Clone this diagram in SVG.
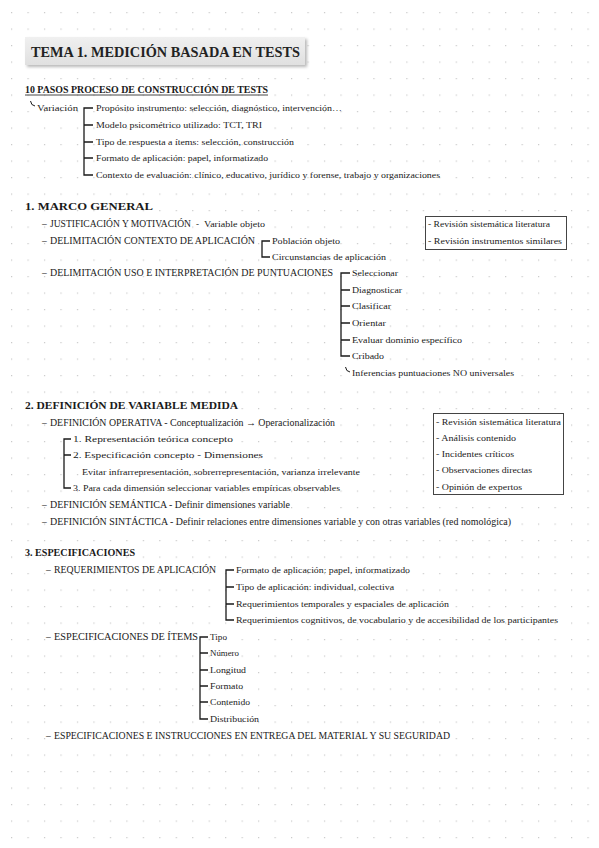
<svg xmlns="http://www.w3.org/2000/svg" width="599" height="848" viewBox="0 0 599 848">
<defs>
<pattern id="dots" x="11" y="12" width="16.47" height="16.5" patternUnits="userSpaceOnUse">
<rect x="0" y="0" width="1.2" height="1.2" fill="#c9c9c9"/>
</pattern>
<filter id="sh" x="-5%" y="-20%" width="110%" height="150%">
<feGaussianBlur stdDeviation="1.5"/>
</filter>
<linearGradient id="tg" x1="0" y1="0" x2="0" y2="1">
<stop offset="0" stop-color="#f0f0f0"/>
<stop offset="1" stop-color="#e0e0e0"/>
</linearGradient>
</defs>
<style>
text{font-family:"Liberation Serif","Times New Roman",serif;fill:#1a1a1a;font-size:9px}
.h{font-weight:bold;font-size:9.5px}
.c{font-size:9.5px}
.t{font-size:15.5px;font-weight:bold;fill:#222}
.br{stroke:#1a1a1a;stroke-width:1.3;fill:none}
.tk{stroke:#1a1a1a;stroke-width:1;fill:none}
.box{fill:#fff;stroke:#444;stroke-width:1}
</style>
<rect width="599" height="848" fill="#fff"/>
<rect width="599" height="848" fill="url(#dots)"/>

<g id="title">
<rect x="27" y="39" width="280" height="28" fill="#b8b8b8" filter="url(#sh)"/>
<rect x="25" y="37" width="280" height="28" fill="url(#tg)"/>
<text class="t" x="31" y="56.5" textLength="269" lengthAdjust="spacingAndGlyphs">TEMA 1. MEDICIÓN BASADA EN TESTS</text>
</g>

<g id="pasos">
<text class="h" x="25" y="93" textLength="243" lengthAdjust="spacingAndGlyphs" font-size="9">10 PASOS PROCESO DE CONSTRUCCIÓN DE TESTS</text>
<line x1="25" y1="95" x2="268" y2="95" stroke="#1a1a1a" stroke-width="0.8"/>
<text x="37" y="111" textLength="41" lengthAdjust="spacingAndGlyphs">Variación</text>
<text x="96" y="111" textLength="246" lengthAdjust="spacingAndGlyphs">Propósito instrumento: selección, diagnóstico, intervención…</text>
<text x="96" y="128" textLength="166" lengthAdjust="spacingAndGlyphs">Modelo psicométrico utilizado: TCT, TRI</text>
<text x="96" y="145" textLength="198" lengthAdjust="spacingAndGlyphs">Tipo de respuesta a ítems: selección, construcción</text>
<text x="96" y="161" textLength="172" lengthAdjust="spacingAndGlyphs">Formato de aplicación: papel, informatizado</text>
<text x="96" y="178" textLength="344" lengthAdjust="spacingAndGlyphs">Contexto de evaluación: clínico, educativo, jurídico y forense, trabajo y organizaciones</text>
</g>

<g id="marco">
<text class="h" x="25" y="210" textLength="128" lengthAdjust="spacingAndGlyphs">1. MARCO GENERAL</text>
<text class="c" x="42" y="227">–</text>
<text class="c" x="50" y="227" textLength="141" lengthAdjust="spacingAndGlyphs">JUSTIFICACIÓN Y MOTIVACIÓN</text>
<text x="196" y="227">-</text>
<text x="204" y="227" textLength="61" lengthAdjust="spacingAndGlyphs">Variable objeto</text>
<text class="c" x="42" y="244">–</text>
<text class="c" x="50" y="244" textLength="205" lengthAdjust="spacingAndGlyphs">DELIMITACIÓN CONTEXTO DE APLICACIÓN</text>
<text x="272" y="244" textLength="68" lengthAdjust="spacingAndGlyphs">Población objeto</text>
<text x="272" y="260" textLength="114" lengthAdjust="spacingAndGlyphs">Circunstancias de aplicación</text>
<text class="c" x="42" y="276">–</text>
<text class="c" x="50" y="276" textLength="283" lengthAdjust="spacingAndGlyphs">DELIMITACIÓN USO E INTERPRETACIÓN DE PUNTUACIONES</text>
<text x="352" y="276" textLength="46" lengthAdjust="spacingAndGlyphs">Seleccionar</text>
<text x="352" y="293" textLength="50" lengthAdjust="spacingAndGlyphs">Diagnosticar</text>
<text x="352" y="309" textLength="39" lengthAdjust="spacingAndGlyphs">Clasificar</text>
<text x="352" y="326" textLength="34" lengthAdjust="spacingAndGlyphs">Orientar</text>
<text x="352" y="343" textLength="110" lengthAdjust="spacingAndGlyphs">Evaluar dominio específico</text>
<text x="352" y="359" textLength="32" lengthAdjust="spacingAndGlyphs">Cribado</text>
<text x="352" y="376" textLength="162" lengthAdjust="spacingAndGlyphs">Inferencias puntuaciones NO universales</text>
</g>

<g id="box1">
<rect class="box" x="425.5" y="216.5" width="141" height="33"/>
<text x="428" y="227" textLength="122" lengthAdjust="spacingAndGlyphs">- Revisión sistemática literatura</text>
<text x="428" y="244" textLength="134" lengthAdjust="spacingAndGlyphs">- Revisión instrumentos similares</text>
</g>

<g id="definicion">
<text class="h" x="25" y="409" textLength="213" lengthAdjust="spacingAndGlyphs">2. DEFINICIÓN DE VARIABLE MEDIDA</text>
<text class="c" x="42" y="426">–</text>
<text class="c" x="50" y="426" textLength="285" lengthAdjust="spacingAndGlyphs">DEFINICIÓN OPERATIVA - Conceptualización → Operacionalización</text>
<text x="73" y="442" textLength="160" lengthAdjust="spacingAndGlyphs">1. Representación teórica concepto</text>
<text x="73" y="458" textLength="190" lengthAdjust="spacingAndGlyphs">2. Especificación concepto - Dimensiones</text>
<text x="82" y="475" textLength="278" lengthAdjust="spacingAndGlyphs">Evitar infrarrepresentación, sobrerrepresentación, varianza irrelevante</text>
<text x="73" y="491" textLength="267" lengthAdjust="spacingAndGlyphs">3. Para cada dimensión seleccionar variables empíricas observables</text>
<text class="c" x="42" y="508">–</text>
<text class="c" x="50" y="508" textLength="240" lengthAdjust="spacingAndGlyphs">DEFINICIÓN SEMÁNTICA - Definir dimensiones variable</text>
<text class="c" x="42" y="525">–</text>
<text class="c" x="50" y="525" textLength="461" lengthAdjust="spacingAndGlyphs">DEFINICIÓN SINTÁCTICA - Definir relaciones entre dimensiones variable y con otras variables (red nomológica)</text>
</g>

<g id="box2">
<rect class="box" x="433.5" y="413.5" width="130" height="81"/>
<text x="436" y="425" textLength="125" lengthAdjust="spacingAndGlyphs">- Revisión sistemática literatura</text>
<text x="436" y="441" textLength="80" lengthAdjust="spacingAndGlyphs">- Análisis contenido</text>
<text x="436" y="457" textLength="78" lengthAdjust="spacingAndGlyphs">- Incidentes críticos</text>
<text x="436" y="473" textLength="96" lengthAdjust="spacingAndGlyphs">- Observaciones directas</text>
<text x="436" y="490" textLength="86" lengthAdjust="spacingAndGlyphs">- Opinión de expertos</text>
</g>

<g id="especificaciones">
<text class="h" x="25" y="556" textLength="110" lengthAdjust="spacingAndGlyphs">3. ESPECIFICACIONES</text>
<text class="c" x="46" y="573">–</text>
<text class="c" x="54" y="573" textLength="162" lengthAdjust="spacingAndGlyphs">REQUERIMIENTOS DE APLICACIÓN</text>
<text x="236" y="573" textLength="174" lengthAdjust="spacingAndGlyphs">Formato de aplicación: papel, informatizado</text>
<text x="236" y="590" textLength="158" lengthAdjust="spacingAndGlyphs">Tipo de aplicación: individual, colectiva</text>
<text x="236" y="607" textLength="213" lengthAdjust="spacingAndGlyphs">Requerimientos temporales y espaciales de aplicación</text>
<text x="236" y="623" textLength="322" lengthAdjust="spacingAndGlyphs">Requerimientos cognitivos, de vocabulario y de accesibilidad de los participantes</text>
<text class="c" x="46" y="640">–</text>
<text class="c" x="54" y="640" textLength="144" lengthAdjust="spacingAndGlyphs">ESPECIFICACIONES DE ÍTEMS</text>
<text x="210" y="640" textLength="17" lengthAdjust="spacingAndGlyphs">Tipo</text>
<text x="210" y="656" textLength="29" lengthAdjust="spacingAndGlyphs">Número</text>
<text x="210" y="673" textLength="36" lengthAdjust="spacingAndGlyphs">Longitud</text>
<text x="210" y="689" textLength="33" lengthAdjust="spacingAndGlyphs">Formato</text>
<text x="210" y="705" textLength="40" lengthAdjust="spacingAndGlyphs">Contenido</text>
<text x="210" y="722" textLength="49" lengthAdjust="spacingAndGlyphs">Distribución</text>
<text class="c" x="46" y="739">–</text>
<text class="c" x="54" y="739" textLength="396" lengthAdjust="spacingAndGlyphs">ESPECIFICACIONES E INSTRUCCIONES EN ENTREGA DEL MATERIAL Y SU SEGURIDAD</text>
</g>

<g id="connectors">
<path class="tk" d="M30.5 101 Q31 105.5 35 106"/>
<path class="br" d="M93 108 H84 V175 H93 M84 125 H93 M84 142 H93 M84 158 H93"/>
<path class="br" d="M270 241 H262 V257 H270"/>
<path class="br" d="M350 273 H341 V356 H350 M341 290 H350 M341 306 H350 M341 323 H350 M341 340 H350"/>
<path class="tk" d="M345.5 367 Q346 371.5 350 372"/>
<path class="br" d="M71 439 H64 V488 H71 M64 455 H71"/>
<path class="br" d="M234 570 H226 V620 H234 M226 587 H234 M226 604 H234"/>
<path class="br" d="M208 637 H200 V719 H208 M200 653 H208 M200 670 H208 M200 686 H208 M200 702 H208"/>
</g>
</svg>
